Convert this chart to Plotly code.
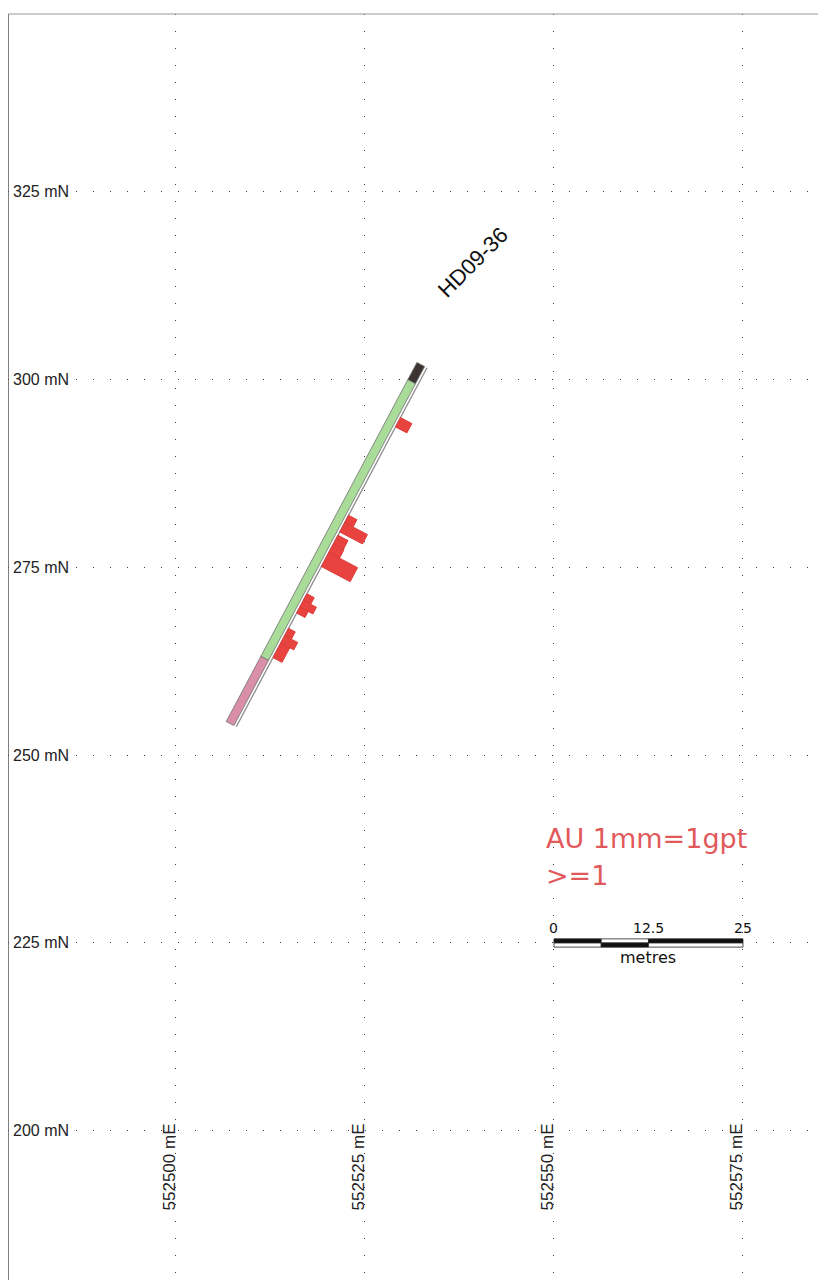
import numpy as np
import plotly.graph_objects as go

# ---------------- data ----------------
easting_ticks = [552500, 552525, 552550, 552575]
northing_ticks = [200, 225, 250, 275, 300, 325]
easting_labels = [f"{e} mE" for e in easting_ticks]
northing_labels = [f"{n} mN" for n in northing_ticks]

hole_id = "HD09-36"
collar_e, collar_n = 552533.2, 301.5
toe_e, toe_n = 552508.0, 253.8
hole_depth = 54.0

# lithology intervals (m down hole)
lith_from = [0.0, 2.6, 44.2]
lith_to = [2.6, 44.2, 54.0]
lith_color = ["#3b3432", "#a9dc98", "#d98fa8"]

# Au assays >= 1 g/t
au_from = [7.5, 22.2, 23.3, 25.2, 26.5, 27.8, 34.0, 35.0, 36.0, 39.2, 40.3, 41.4]
au_to = [8.9, 23.3, 24.7, 26.5, 27.8, 29.9, 35.0, 36.0, 36.9, 40.3, 41.4, 43.6]
au_gpt = [3.4, 2.5, 6.8, 3.0, 3.2, 8.6, 2.2, 3.9, 2.5, 2.0, 3.9, 2.7]

legend_lines = ["AU 1mm=1gpt", ">=1"]
scale_ticks = [0, 12.5, 25]
scale_unit = "metres"

# ---------------- geometry ----------------
M_PER_GPT = 0.5          # 1 mm = 1 g/t at 1:500
BAND_IN, BAND_OUT = -0.35, -1.5
FONT = "Arial, 'Liberation Sans', sans-serif"
WIDE = "'DejaVu Sans', sans-serif"

c = np.array([collar_e, collar_n])
t = np.array([toe_e, toe_n])
u = (t - c) / np.linalg.norm(t - c)
nrm = np.array([-u[1], u[0]])  # right-hand side of hole


def pt(d, off):
    return c + u * d + nrm * off


def quad(d0, d1, o0, o1):
    p = [pt(d0, o0), pt(d1, o0), pt(d1, o1), pt(d0, o1), pt(d0, o0)]
    return [q[0] for q in p], [q[1] for q in p]


fig = go.Figure()

# lithology band
for a, b, col in zip(lith_from, lith_to, lith_color):
    xs, ys = quad(a, b, BAND_IN, BAND_OUT)
    fig.add_trace(go.Scatter(x=xs, y=ys, mode="lines", fill="toself", fillcolor=col,
                             line=dict(color="#707070", width=0.8), hoverinfo="skip"))

# hole trace
p0, p1 = pt(0, 0), pt(hole_depth, 0)
fig.add_trace(go.Scatter(x=[p0[0], p1[0]], y=[p0[1], p1[1]], mode="lines",
                         line=dict(color="#8c8c8c", width=1.3), hoverinfo="skip"))

# Au histogram bars
for a, b, g in zip(au_from, au_to, au_gpt):
    xs, ys = quad(a, b, 0, g * M_PER_GPT)
    fig.add_trace(go.Scatter(x=xs, y=ys, mode="lines", fill="toself", fillcolor="#e8433f",
                             line=dict(color="#dd3c39", width=1.0), hoverinfo="skip"))

# scale bar
sb_e0, sb_n0, sb_h = 552550.0, 225.0, 0.55
edges = [0, 6.25, 12.5, 25]
top_cols = ["#111111", "#ffffff", "#111111"]
bot_cols = ["#ffffff", "#111111", "#ffffff"]
for i in range(3):
    for n0, cols in ((sb_n0, top_cols), (sb_n0 - sb_h, bot_cols)):
        x0, x1 = sb_e0 + edges[i], sb_e0 + edges[i + 1]
        fig.add_trace(go.Scatter(x=[x0, x1, x1, x0, x0], y=[n0, n0, n0 + sb_h, n0 + sb_h, n0],
                                 mode="lines", fill="toself", fillcolor=cols[i],
                                 line=dict(color="#222222", width=0.8), hoverinfo="skip"))

ann = []
for v in scale_ticks:
    ann.append(dict(x=sb_e0 + v, y=sb_n0 + sb_h, xref="x", yref="y", text=str(v),
                    showarrow=False, xanchor="center", yanchor="bottom", yshift=1,
                    font=dict(family=WIDE, size=14, color="#111")))
ann.append(dict(x=sb_e0 + scale_ticks[-1] / 2, y=sb_n0 - sb_h, xref="x", yref="y", text=scale_unit,
                showarrow=False, xanchor="center", yanchor="top", yshift=1,
                font=dict(family=WIDE, size=16, color="#111")))

# hole label
lab = pt(-15.2, -1.2)
ann.append(dict(x=lab[0], y=lab[1], xref="x", yref="y", text=hole_id, showarrow=False,
                textangle=-45, font=dict(family=FONT, size=22, color="#111")))

# legend text
ann.append(dict(x=0.649, y=0.3532, xref="paper", yref="paper", text=legend_lines[0], showarrow=False,
                xanchor="left", yanchor="middle", font=dict(family=WIDE, size=27, color="#e2595b")))
ann.append(dict(x=0.649, y=0.3234, xref="paper", yref="paper", text=legend_lines[1], showarrow=False,
                xanchor="left", yanchor="middle", font=dict(family=WIDE, size=27, color="#e2595b")))

# grid labels
for v, s in zip(northing_ticks, northing_labels):
    ann.append(dict(x=0, y=v, xref="paper", yref="y", text=s, showarrow=False, xanchor="left",
                    yanchor="middle", xshift=1, bgcolor="white", borderpad=3,
                    font=dict(family=FONT, size=16, color="#222")))
for v, s in zip(easting_ticks, easting_labels):
    ann.append(dict(x=v, y=northing_ticks[0], xref="x", yref="y", text=s, showarrow=False,
                    textangle=-90, xanchor="center", yanchor="top", xshift=-6, yshift=10,
                    font=dict(family=FONT, size=17, color="#222")))

grid = dict(showgrid=True, gridcolor="#3a3a3a", gridwidth=1.4, griddash="1.4px,15.6px",
            zeroline=False, showticklabels=False, ticks="", showline=False)

fig.update_layout(
    width=826, height=1280,
    margin=dict(l=0, r=0, t=6, b=0),
    paper_bgcolor="white", plot_bgcolor="white",
    showlegend=False,
    xaxis=dict(range=[552477.78, 552587.04], tickvals=easting_ticks, **grid),
    yaxis=dict(range=[179.12, 348.54], tickvals=northing_ticks, **grid),
    annotations=ann,
    shapes=[
        dict(type="line", xref="paper", yref="paper", x0=0, x1=0, y0=0, y1=1,
             line=dict(color="#555", width=1.5)),
        dict(type="line", xref="paper", yref="paper", x0=0, x1=1, y0=1, y1=1,
             line=dict(color="#999", width=1)),
    ],
)

fig.write_html("out.html")
